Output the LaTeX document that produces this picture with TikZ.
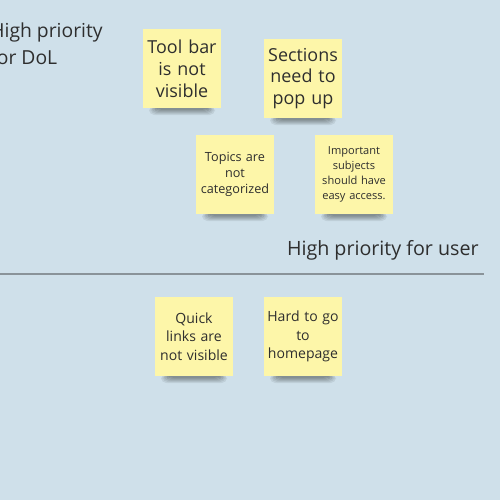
\documentclass[tikz,border=0pt]{standalone}
\usepackage{fontspec}
\setmainfont{Open Sans}
\definecolor{bg}{HTML}{CFE0EA}
\definecolor{note}{HTML}{FDF6A9}
\definecolor{ink}{HTML}{2E2E2E}
\definecolor{rule}{HTML}{8A9399}
\newcommand{\stickynote}[6]{% name, x, y, fontsize, baselineskip, text
  \foreach \i in {0,...,5}{
    \fill[black,opacity=0.07,rounded corners=3] (#2+6+\i*1.5,#3+77) rectangle (#2+72-\i*1.5,#3+86-\i);
  }
  \node[notebox,font=\fontsize{#4}{#5}\selectfont] (#1) at (#2+39,#3+39.5) {#6};
}
\begin{document}
\begin{tikzpicture}[x=0.02cm,y=-0.02cm,
  notebox/.style={fill=note,minimum width=78*0.02cm,minimum height=79*0.02cm,inner sep=0pt,text width=72*0.02cm,align=center,text=ink},
  label/.style={text=ink,inner sep=0pt}]
\useasboundingbox (0,0) rectangle (500,500);
\clip (0,0) rectangle (500,500);
\fill[bg] (0,0) rectangle (500,500);
\node[label,anchor=north west,align=left,font=\fontsize{11pt}{15.9pt}\selectfont] (dol) at (-10,22) {High priority\\for DoL};
\stickynote{toolbar}{143}{29}{10.2pt}{12.5pt}{Tool bar\\is not\\visible}
\stickynote{sections}{264}{39}{10.2pt}{12.4pt}{Sections\\need to\\pop up}
\stickynote{topics}{196}{135}{7.2pt}{9.3pt}{Topics are\\not\\categorized}
\stickynote{important}{315}{135}{6.3pt}{8.5pt}{Important\\subjects\\should have\\easy access.}
\node[label,anchor=east,font=\fontsize{11.2pt}{13pt}\selectfont] (user) at (479,250) {High priority for user};
\coordinate (ruleL) at (0,274);
\coordinate (ruleR) at (484,274);
\draw[rule,line width=0.8pt] (ruleL) -- (ruleR);
\stickynote{quick}{155}{297}{8pt}{10.4pt}{Quick\\links are\\not visible}
\stickynote{home}{264}{297}{8pt}{10.4pt}{Hard to go\\to\\homepage}
\end{tikzpicture}
\end{document}
